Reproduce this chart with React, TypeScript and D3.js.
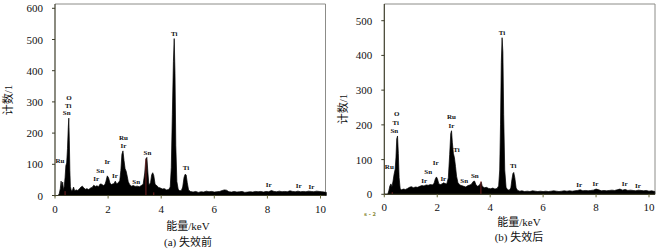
import React from "react";
import * as d3 from "d3";

// ---------- data ----------
const spectrumA: [number, number][] = [
  [0,0],[0.12,0],[0.16,6],[0.2,22],[0.23,46],[0.26,28],[0.29,43],[0.32,18],[0.35,30],[0.38,58],[0.41,96],[0.44,104],[0.47,150],[0.5,218],[0.52,248],[0.54,175],[0.56,80],[0.58,28],[0.62,14],[0.66,18],[0.7,27],[0.74,15],[0.8,18],[0.86,16],[0.92,22],[0.98,27],[1.03,30],[1.08,25],[1.14,20],[1.2,22],[1.27,19],[1.34,24],[1.4,26],[1.46,33],[1.52,29],[1.58,31],[1.64,28],[1.7,37],[1.76,36],[1.82,32],[1.88,35],[1.92,46],[1.97,63],[2.02,56],[2.07,40],[2.12,35],[2.17,37],[2.22,38],[2.27,46],[2.32,38],[2.38,40],[2.44,48],[2.48,80],[2.52,132],[2.56,143],[2.6,112],[2.64,86],[2.68,78],[2.72,62],[2.76,44],[2.82,34],[2.88,30],[2.95,32],[3.02,29],[3.1,30],[3.18,28],[3.25,32],[3.32,36],[3.38,72],[3.42,117],[3.46,122],[3.5,72],[3.54,32],[3.6,42],[3.64,66],[3.68,73],[3.72,64],[3.77,36],[3.84,31],[3.9,26],[3.97,24],[4.04,21],[4.12,22],[4.2,18],[4.28,19],[4.34,27],[4.38,90],[4.42,260],[4.46,430],[4.49,503],[4.52,390],[4.55,160],[4.59,45],[4.64,20],[4.7,15],[4.76,16],[4.81,27],[4.86,58],[4.9,68],[4.94,66],[4.98,42],[5.03,18],[5.1,13],[5.2,11],[5.3,13],[5.4,10],[5.5,12],[5.6,11],[5.7,14],[5.8,12],[5.9,13],[6.0,11],[6.1,12],[6.2,13],[6.3,16],[6.38,18],[6.46,17],[6.55,12],[6.65,11],[6.75,13],[6.85,11],[6.95,12],[7.05,13],[7.15,10],[7.25,11],[7.35,12],[7.45,11],[7.55,13],[7.65,12],[7.75,13],[7.85,11],[7.95,13],[8.05,12],[8.15,16],[8.25,13],[8.35,12],[8.45,14],[8.55,12],[8.65,13],[8.75,12],[8.85,15],[8.95,13],[9.05,12],[9.15,14],[9.25,12],[9.35,13],[9.45,12],[9.55,14],[9.65,13],[9.75,12],[9.85,14],[9.95,13],[10.05,12],[10.15,11],[10.22,10],
];

const spectrumB: [number, number][] = [
  [0,0],[0.13,0],[0.17,10],[0.21,24],[0.25,30],[0.29,22],[0.33,38],[0.37,58],[0.41,72],[0.44,105],[0.47,160],[0.5,168],[0.53,118],[0.56,48],[0.6,16],[0.65,13],[0.72,15],[0.8,14],[0.88,17],[0.95,20],[1.02,22],[1.1,19],[1.18,21],[1.26,20],[1.34,23],[1.42,25],[1.5,24],[1.58,27],[1.66,26],[1.74,28],[1.82,27],[1.88,32],[1.93,45],[1.97,50],[2.01,44],[2.06,30],[2.12,28],[2.18,30],[2.24,33],[2.3,31],[2.36,30],[2.42,48],[2.47,115],[2.51,175],[2.54,183],[2.57,150],[2.61,118],[2.65,105],[2.69,80],[2.73,52],[2.78,34],[2.85,27],[2.92,25],[3.0,23],[3.08,21],[3.16,25],[3.24,27],[3.3,30],[3.36,37],[3.41,38],[3.46,28],[3.52,23],[3.58,25],[3.62,30],[3.66,36],[3.7,23],[3.78,19],[3.86,20],[3.94,17],[4.02,16],[4.1,18],[4.18,15],[4.26,17],[4.32,24],[4.36,70],[4.39,200],[4.42,380],[4.45,451],[4.48,410],[4.51,230],[4.55,70],[4.6,20],[4.66,13],[4.72,12],[4.78,18],[4.82,42],[4.86,60],[4.89,63],[4.93,48],[4.98,18],[5.04,11],[5.12,9],[5.2,10],[5.3,8],[5.4,9],[5.5,8],[5.6,10],[5.7,9],[5.8,8],[5.9,9],[6.0,8],[6.1,9],[6.2,8],[6.3,9],[6.4,10],[6.5,9],[6.6,8],[6.7,9],[6.8,10],[6.9,9],[7.0,10],[7.1,9],[7.2,10],[7.3,11],[7.4,13],[7.5,10],[7.6,11],[7.7,10],[7.8,11],[7.9,12],[8.0,15],[8.1,13],[8.2,10],[8.3,11],[8.4,10],[8.5,11],[8.6,12],[8.7,11],[8.8,13],[8.9,15],[9.0,12],[9.1,14],[9.2,11],[9.3,12],[9.4,11],[9.5,10],[9.6,12],[9.7,11],[9.8,10],[9.9,11],[10.0,9],[10.1,10],[10.22,8],
];

const xTicks = [0, 2, 4, 6, 8, 10];
const yTicksA = [0, 100, 200, 300, 400, 500, 600];
const yTicksB = [0, 100, 200, 300, 400, 500];

// peak labels: [text, keV, count]
const labelsA: [string, number, number][] = [
  ["O", 0.53, 314], ["Ti", 0.5, 286], ["Sn", 0.44, 263], ["Ru", 0.19, 111],
  ["Sn", 1.7, 80], ["Ir", 1.55, 53], ["Ir", 1.97, 106], ["Ir", 2.26, 63],
  ["Ru", 2.58, 185], ["Ir", 2.58, 158], ["Sn", 3.06, 44], ["Sn", 3.48, 135],
  ["Ti", 4.49, 519], ["Ti", 4.93, 87], ["Ir", 8.05, 34], ["Ir", 9.18, 30], ["Ir", 9.66, 28],
];
const labelsB: [string, number, number][] = [
  ["O", 0.47, 230], ["Ti", 0.43, 205], ["Sn", 0.38, 182], ["Ru", 0.19, 80],
  ["Sn", 1.66, 63], ["Ir", 1.51, 39], ["Ir", 1.94, 89], ["Ir", 2.23, 44],
  ["Ru", 2.54, 224], ["Ir", 2.54, 198], ["Ti", 2.73, 128], ["Sn", 3.02, 39], ["Sn", 3.42, 53],
  ["Ti", 4.45, 464], ["Ti", 4.87, 82], ["Ir", 7.36, 27], ["Ir", 7.98, 30], ["Ir", 9.08, 30], ["Ir", 9.58, 25],
];

// red marker lines: [keV, count]
const redA: [number, number][] = [[3.425, 118], [0.38, 14], [3.72, 10]];
const redB: [number, number][] = [[3.65, 38], [0.3, 6]];

const captions = ["(a) 失效前", "(b) 失效后"];
const xTitle = "能量/keV";
const yTitle = "计数/1";

// ---------- layout ----------
const W = 661;
const H = 251;
const SERIF = "'Liberation Serif', 'Times New Roman', 'Noto Sans CJK SC', serif";
const CJK = "'Liberation Serif', 'Noto Sans CJK SC', serif";

type PanelProps = {
  data: [number, number][];
  yTicks: number[];
  labels: [string, number, number][];
  red: [number, number][];
  caption: string;
  xr: [number, number];
  frameRight: number;
  yDomainMax: number;
  yr: [number, number];
  frameTop: number;
  yTitleX: number;
  yTitleY: number;
  xTickY: number;
  xTitleY: number;
  captionY: number;
  centerX: number;
};

function Panel(p: PanelProps) {
  const x = d3.scaleLinear().domain([0, 10]).range(p.xr);
  const y = d3.scaleLinear().domain([0, p.yDomainMax]).range(p.yr);
  const area = d3
    .area<[number, number]>()
    .x((d) => x(d[0]))
    .y0(y(0))
    .y1((d) => y(d[1]));
  const left = p.xr[0];
  const bottom = y(0);
  return (
    <g>
      {/* frame */}
      <line x1={left} x2={p.frameRight} y1={p.frameTop} y2={p.frameTop} stroke="#8c8c88" strokeWidth={1} />
      <line x1={p.frameRight} x2={p.frameRight} y1={p.frameTop} y2={bottom} stroke="#8c8c88" strokeWidth={1} />
      {/* spectrum */}
      <path d={area(p.data) || ""} fill="#000" stroke="#000" strokeWidth={0.7} strokeLinejoin="round" />
      {p.red.map((r, i) => (
        <line key={i} x1={x(r[0])} x2={x(r[0])} y1={bottom} y2={y(r[1])} stroke="#c83a3a" strokeWidth={0.7} opacity={0.85} />
      ))}
      {/* axes */}
      <line x1={left} x2={left} y1={p.frameTop} y2={bottom + 1} stroke="#3d3d2a" strokeWidth={1.2} />
      <line x1={left} x2={p.frameRight} y1={bottom} y2={bottom} stroke="#3d3d2a" strokeWidth={1.2} />
      {p.yTicks.map((t) => (
        <g key={t}>
          <line x1={left - 3} x2={left} y1={y(t)} y2={y(t)} stroke="#3d3d2a" strokeWidth={1} />
          <text x={left - 12} y={y(t)} textAnchor="end" dominantBaseline="central" fontFamily={SERIF} fontSize={11} fill="#111">
            {t}
          </text>
        </g>
      ))}
      {xTicks.map((t) => (
        <g key={t}>
          <line x1={x(t)} x2={x(t)} y1={bottom} y2={bottom + 3} stroke="#6b6b3a" strokeWidth={1} />
          <text x={x(t)} y={p.xTickY} textAnchor="middle" dominantBaseline="central" fontFamily={SERIF} fontSize={11} fill="#111">
            {t}
          </text>
        </g>
      ))}
      {/* peak labels */}
      {p.labels.map((l, i) => (
        <text key={i} x={x(l[1])} y={y(l[2])} textAnchor="middle" dominantBaseline="central" fontFamily={SERIF} fontWeight="bold" fontSize={7} fill="#111">
          {l[0]}
        </text>
      ))}
      {/* titles */}
      <text
        transform={`translate(${p.yTitleX},${p.yTitleY}) rotate(-90)`}
        textAnchor="middle"
        dominantBaseline="central"
        fontFamily={CJK}
        fontSize={11}
        fill="#111"
      >
        {yTitle}
      </text>
      <text x={p.centerX} y={p.xTitleY} textAnchor="middle" dominantBaseline="central" fontFamily={CJK} fontSize={11} fill="#111">
        {xTitle}
      </text>
      <text x={p.centerX} y={p.captionY} textAnchor="middle" dominantBaseline="central" fontFamily={CJK} fontSize={11} fill="#111">
        {p.caption}
      </text>
    </g>
  );
}

export default function App() {
  return (
    <svg
      width={W}
      height={H}
      style={{ position: "absolute", left: 0, top: 0, background: "#fff" }}
      xmlns="http://www.w3.org/2000/svg"
    >
      <rect width={W} height={H} fill="#fff" />
      <Panel
        data={spectrumA}
        yTicks={yTicksA}
        labels={labelsA}
        red={redA}
        caption={captions[0]}
        xr={[55, 320.5]}
        frameRight={325.5}
        yDomainMax={600}
        yr={[195.5, 8.3]}
        frameTop={4}
        yTitleX={8}
        yTitleY={100}
        xTickY={209}
        xTitleY={226}
        captionY={242}
        centerX={188}
      />
      <Panel
        data={spectrumB}
        yTicks={yTicksB}
        labels={labelsB}
        red={redB}
        caption={captions[1]}
        xr={[384.3, 649]}
        frameRight={655}
        yDomainMax={500}
        yr={[194.3, 20.7]}
        frameTop={4}
        yTitleX={343}
        yTitleY={109}
        xTickY={207}
        xTitleY={222}
        captionY={237}
        centerX={519}
      />
      <text x={370} y={214} textAnchor="middle" dominantBaseline="central" fontFamily="'DejaVu Sans', sans-serif" fontWeight="bold" fontSize={5} fill="#8a8a3a">
        s - 2
      </text>
    </svg>
  );
}
